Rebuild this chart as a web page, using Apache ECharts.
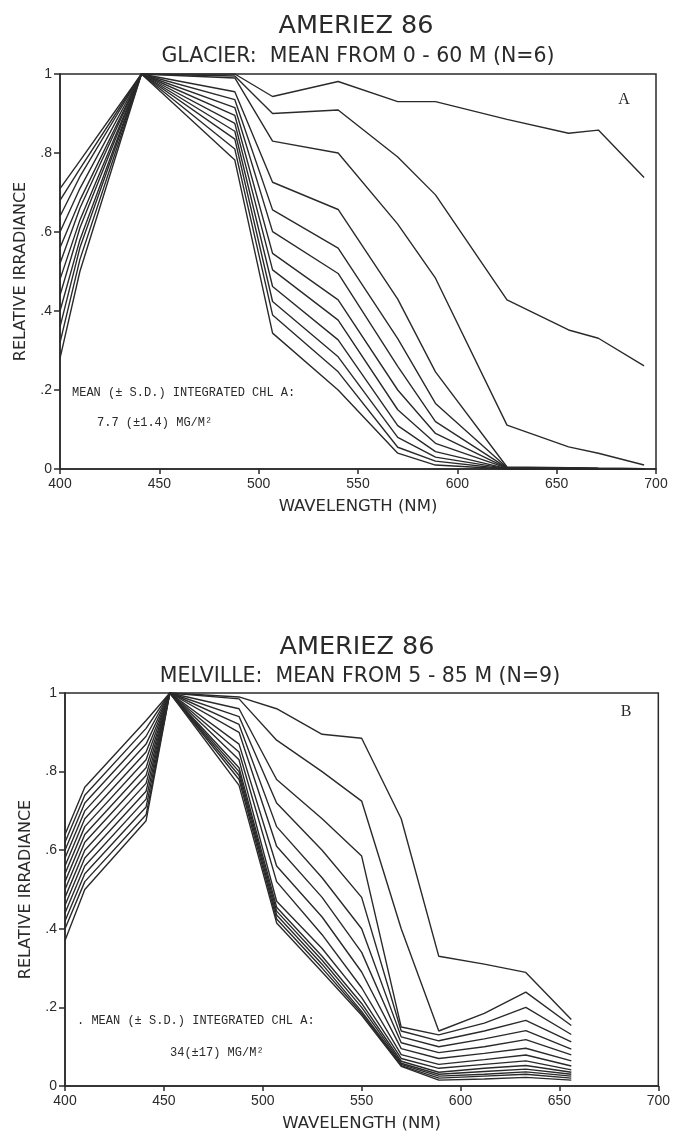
<!DOCTYPE html>
<html>
<head>
<meta charset="utf-8">
<title>AMERIEZ 86</title>
<script src="https://cdn.jsdelivr.net/npm/echarts@6/dist/echarts.min.js"></script>
<style>
html, body { margin: 0; padding: 0; background: #fff; }
#chart { width: 673px; height: 1141px; }
</style>
</head>
<body>
<div id="chart"></div>
<script>
// wavelengths (nm) of the channels in each panel
var glacierWl = [400, 410, 441, 488, 507, 540, 570, 589, 625, 656, 671, 694];
var melvilleWl = [400, 410, 441, 453, 488, 507, 530, 550, 570, 589, 612, 633, 656];

// panel A: one profile per depth, shallow -> deep
var glacierCurves = [
	[0.71, 0.78, 1.00, 1.00, 0.943, 0.981, 0.93, 0.93, 0.885, 0.85, 0.858, 0.738],
	[0.68, 0.76, 1.00, 0.995, 0.90, 0.909, 0.79, 0.694, 0.428, 0.352, 0.331, 0.261],
	[0.64, 0.74, 1.00, 0.99, 0.83, 0.80, 0.62, 0.483, 0.111, 0.056, 0.04, 0.01],
	[0.60, 0.71, 1.00, 0.955, 0.726, 0.657, 0.43, 0.246, 0.005, 0.003, 0.002, 0.001],
	[0.56, 0.68, 1.00, 0.935, 0.656, 0.559, 0.33, 0.166, 0.004, 0.003, 0.002, 0.001],
	[0.52, 0.66, 1.00, 0.915, 0.601, 0.495, 0.26, 0.12, 0.003, 0.002, 0.001, 0.001],
	[0.48, 0.63, 1.00, 0.895, 0.546, 0.428, 0.20, 0.09, 0.002, 0.002, 0.001, 0.0],
	[0.44, 0.61, 1.00, 0.875, 0.504, 0.377, 0.15, 0.065, 0.002, 0.001, 0.001, 0.0],
	[0.40, 0.58, 1.00, 0.855, 0.462, 0.327, 0.11, 0.044, 0.001, 0.001, 0.0, 0.0],
	[0.36, 0.56, 1.00, 0.835, 0.424, 0.284, 0.08, 0.03, 0.001, 0.0, 0.0, 0.0],
	[0.32, 0.53, 1.00, 0.81, 0.39, 0.246, 0.055, 0.02, 0.0, 0.0, 0.0, 0.0],
	[0.28, 0.50, 1.00, 0.782, 0.344, 0.20, 0.04, 0.01, 0.0, 0.0, 0.0, 0.0]
];

// panel B
var melvilleCurves = [
	[0.64, 0.76, 0.93, 1.00, 0.99, 0.96, 0.895, 0.885, 0.68, 0.33, 0.31, 0.289, 0.169],
	[0.62, 0.74, 0.91, 1.00, 0.985, 0.88, 0.80, 0.725, 0.40, 0.14, 0.185, 0.239, 0.154],
	[0.60, 0.72, 0.89, 1.00, 0.96, 0.78, 0.68, 0.585, 0.15, 0.13, 0.16, 0.20, 0.131],
	[0.58, 0.70, 0.87, 1.00, 0.94, 0.72, 0.60, 0.48, 0.14, 0.115, 0.14, 0.167, 0.112],
	[0.56, 0.68, 0.85, 1.00, 0.92, 0.66, 0.53, 0.40, 0.125, 0.10, 0.12, 0.141, 0.094],
	[0.54, 0.66, 0.83, 1.00, 0.90, 0.61, 0.48, 0.34, 0.11, 0.085, 0.10, 0.118, 0.079],
	[0.52, 0.64, 0.81, 1.00, 0.87, 0.56, 0.43, 0.29, 0.095, 0.07, 0.083, 0.096, 0.064],
	[0.50, 0.62, 0.79, 1.00, 0.85, 0.52, 0.385, 0.25, 0.08, 0.055, 0.067, 0.079, 0.051],
	[0.48, 0.60, 0.77, 1.00, 0.83, 0.47, 0.35, 0.225, 0.07, 0.045, 0.055, 0.064, 0.041],
	[0.46, 0.58, 0.75, 1.00, 0.81, 0.455, 0.33, 0.21, 0.063, 0.035, 0.045, 0.052, 0.035],
	[0.44, 0.56, 0.73, 1.00, 0.80, 0.445, 0.32, 0.20, 0.058, 0.03, 0.037, 0.043, 0.03],
	[0.42, 0.54, 0.71, 1.00, 0.79, 0.435, 0.31, 0.19, 0.055, 0.025, 0.03, 0.036, 0.025],
	[0.40, 0.52, 0.69, 1.00, 0.78, 0.425, 0.30, 0.185, 0.052, 0.02, 0.025, 0.03, 0.02],
	[0.37, 0.50, 0.675, 1.00, 0.765, 0.415, 0.29, 0.18, 0.05, 0.015, 0.018, 0.022, 0.015]
];

var panelTitles = ['AMERIEZ 86', 'AMERIEZ 86'];
var panelSubtitles = ['GLACIER:  MEAN FROM 0 - 60 M (N=6)', 'MELVILLE:  MEAN FROM 5 - 85 M (N=9)'];
var panelLetters = ['A', 'B'];
var chlLines = [
	['MEAN (\u00b1 S.D.) INTEGRATED CHL A:', '7.7 (\u00b11.4) MG/M\u00b2'],
	['. MEAN (\u00b1 S.D.) INTEGRATED CHL A:', '34(\u00b117) MG/M\u00b2']
];

var ink = '#2a2a2a';
var sans = 'DejaVu Sans';
var tickFont = 'Liberation Sans';
var mono = 'Liberation Mono';

function makeSeries(wl, curves, idx) {
	return curves.map(function(c) {
		return {
			type: 'line',
			xAxisIndex: idx,
			yAxisIndex: idx,
			symbol: 'none',
			silent: true,
			lineStyle: { color: ink, width: 1.4 },
			data: c.map(function(v, i) { return [wl[i], v]; })
		};
	});
}

function xAxisFor(idx) {
	return {
		gridIndex: idx, type: 'value', min: 400, max: 700, interval: 50,
		name: 'WAVELENGTH (NM)', nameLocation: 'middle', nameGap: 29,
		nameTextStyle: { fontFamily: sans, fontSize: 16.5, color: ink },
		axisLine: { lineStyle: { color: ink, width: 1.5 } },
		axisTick: { length: 5, lineStyle: { color: ink, width: 1.5 } },
		axisLabel: { fontFamily: tickFont, fontSize: 14, color: ink, margin: 8 },
		splitLine: { show: false }
	};
}

function yAxisFor(idx) {
	return {
		gridIndex: idx, type: 'value', min: 0, max: 1, interval: 0.2,
		name: 'RELATIVE IRRADIANCE', nameLocation: 'middle', nameGap: 31,
		nameTextStyle: { fontFamily: sans, fontSize: 16, color: ink },
		axisLine: { show: true, lineStyle: { color: ink, width: 1.5 } },
		axisTick: { show: true, length: 6, lineStyle: { color: ink, width: 1.5 } },
		axisLabel: {
			fontFamily: tickFont, fontSize: 14, color: ink, margin: 8,
			formatter: function(v) {
				if (v === 0) return '0';
				if (v >= 0.999) return '1';
				return v.toFixed(1).replace('0.', '.');
			}
		},
		splitLine: { show: false }
	};
}

function txt(x, y, s, font, align) {
	return {
		type: 'text', x: x, y: y, silent: true,
		style: { text: s, font: font, fill: ink, align: align || 'left', verticalAlign: 'middle',
			textAlign: align || 'left', textVerticalAlign: 'middle' }
	};
}

var chart = echarts.init(document.getElementById('chart'));
chart.setOption({
	backgroundColor: '#ffffff',
	animation: false,
	grid: [
		{ left: 60, top: 74, width: 596, height: 395, show: true, borderColor: ink, borderWidth: 1.5 },
		{ left: 65, top: 693, width: 596, height: 393, show: true, borderColor: ink, borderWidth: 1.5 }
	],
	xAxis: [xAxisFor(0), xAxisFor(1)],
	yAxis: [yAxisFor(0), yAxisFor(1)],
	graphic: [
		txt(356, 26, panelTitles[0], '25.5px ' + sans, 'center'),
		txt(358, 57, panelSubtitles[0], '20.5px ' + sans, 'center'),
		txt(624, 100, panelLetters[0], '16px Liberation Serif', 'center'),
		txt(72, 393, chlLines[0][0], '12px ' + mono),
		txt(97, 423, chlLines[0][1], '12px ' + mono),
		txt(357, 647, panelTitles[1], '25.5px ' + sans, 'center'),
		txt(360, 677, panelSubtitles[1], '20.5px ' + sans, 'center'),
		txt(626, 712, panelLetters[1], '16px Liberation Serif', 'center'),
		txt(77, 1021, chlLines[1][0], '12px ' + mono),
		txt(170, 1053, chlLines[1][1], '12px ' + mono)
	],
	series: makeSeries(glacierWl, glacierCurves, 0).concat(makeSeries(melvilleWl, melvilleCurves, 1))
});
</script>
</body>
</html>
